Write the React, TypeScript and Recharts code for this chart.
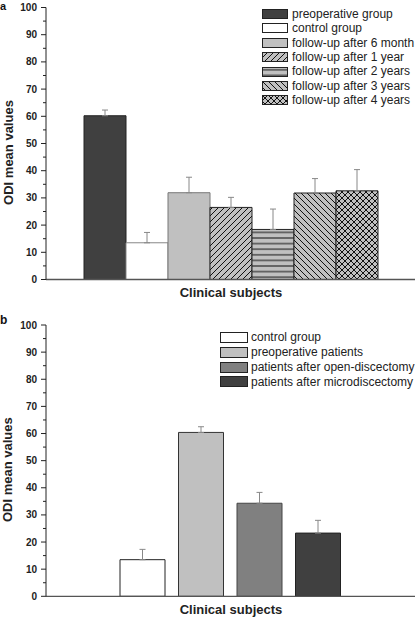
import React from 'react';
import { BarChart, Bar, XAxis, YAxis, ErrorBar, Legend, Label } from 'recharts';

// Panel a
const namesA = [
  'preoperative group',
  'control group',
  'follow-up after 6 month',
  'follow-up after 1 year',
  'follow-up after 2 years',
  'follow-up after 3 years',
  'follow-up after 4 years',
];
const meansA = [60.2, 13.5, 31.9, 26.5, 18.4, 31.8, 32.6];
const errorsA = [2.1, 3.8, 5.7, 3.7, 7.5, 5.3, 7.8];

// Panel b
const namesB = [
  'control group',
  'preoperative patients',
  'patients after open-discectomy',
  'patients after microdiscectomy',
];
const meansB = [13.5, 60.4, 34.3, 23.3];
const errorsB = [3.8, 2.1, 4.0, 4.7];

const yTicks = [0, 5, 10, 15, 20, 25, 30, 35, 40, 45, 50, 55, 60, 65, 70, 75, 80, 85, 90, 95, 100];
const categoryLabel = 'Clinical subjects';
const yLabel = 'ODI mean values';

// styles (separate from data)
const fillsA = ['#404040', '#ffffff', '#c0c0c0', 'url(#pa-fwd)', 'url(#pa-hor)', 'url(#pa-back)', 'url(#pa-cross)'];
const strokesA = ['#222', '#888', '#777', '#222', '#222', '#222', '#222'];
const fillsB = ['#ffffff', '#c0c0c0', '#808080', '#404040'];
const strokesB = ['#222', '#333', '#444', '#222'];

const FONT = '"Liberation Sans", Arial, Helvetica, sans-serif';

function buildRow(means: number[], errors: number[]) {
  const row: Record<string, any> = { name: '' };
  means.forEach((m, i) => {
    row['v' + i] = m;
    row['e' + i] = [0, errors[i]];
  });
  return [row];
}

const dataA = buildRow(meansA, errorsA);
const dataB = buildRow(meansB, errorsB);

const YTick = (props: any) => {
  const { x, y, payload } = props;
  const v = payload.value;
  const major = v % 10 === 0;
  return (
    <g>
      <line x1={x - (major ? 5 : 3)} x2={x} y1={y} y2={y} stroke="#222" strokeWidth={1} />
      {major && (
        <text x={x - 9} y={y} dy="0.35em" textAnchor="end" fontSize={10} fontWeight="bold" fill="#222" fontFamily={FONT}>
          {v}
        </text>
      )}
    </g>
  );
};

const YLabelContent = (props: any) => {
  const vb = props.viewBox || { x: 0, y: 0, width: 0, height: 0 };
  const cx = vb.x + 6.5;
  const cy = vb.y + vb.height / 2 + 9;
  return (
    <text x={cx} y={cy} transform={`rotate(-90, ${cx}, ${cy})`} textAnchor="middle" fontSize={13} fontWeight="bold" fill="#222" fontFamily={FONT}>
      {yLabel}
    </text>
  );
};

const XLabelContent = (props: any) => {
  const vb = props.viewBox || { x: 0, y: 0, width: 0, height: 0 };
  const cx = vb.x + vb.width / 2 + 0.5;
  const cy = vb.y + 17.8;
  return (
    <text x={cx} y={cy} textAnchor="middle" fontSize={13} fontWeight="bold" fill="#222" fontFamily={FONT}>
      {categoryLabel}
    </text>
  );
};

function makeLegend(names: string[], fills: string[], boxW: number, boxH: number, rowH: number, gap: number) {
  return () => (
    <div style={{ fontFamily: FONT }}>
      {names.map((n, i) => (
        <div key={n} style={{ display: 'flex', alignItems: 'center', height: rowH }}>
          <svg width={boxW} height={boxH} style={{ display: 'block' }}>
            <rect x={0.5} y={0.5} width={boxW - 1} height={boxH - 1} fill={fills[i]} stroke="#222" strokeWidth={1} />
          </svg>
          <span style={{ marginLeft: gap, fontSize: 12, color: '#222', whiteSpace: 'nowrap', lineHeight: rowH + 'px' }}>{n}</span>
        </div>
      ))}
    </div>
  );
}

const LegendA = makeLegend(namesA, fillsA, 26, 10, 14.4, 4);
const LegendB = makeLegend(namesB, fillsB, 28, 11, 14.75, 3);

export default function App() {
  return (
    <div style={{ position: 'absolute', left: 0, top: 0, width: 416, height: 617, background: '#fff', fontFamily: FONT }}>
      <style>{'.recharts-surface{overflow:visible}'}</style>
      <div style={{ position: 'absolute', left: 0, top: 0, fontSize: 11, fontWeight: 'bold', lineHeight: 'normal', color: '#111' }}>a</div>
      <div style={{ position: 'absolute', left: 0, top: 0 }}>
        <BarChart width={416} height={300} data={dataA} margin={{ top: 7.5, right: 1, bottom: 0.5, left: 6 }} barSize={42} barGap={0}>
          <defs>
            <pattern id="pa-fwd" patternUnits="userSpaceOnUse" width="6" height="6">
              <rect width="6" height="6" fill="#c0c0c0" />
              <path d="M-1,1 L1,-1 M0,6 L6,0 M5,7 L7,5" stroke="#111" strokeWidth="1" />
            </pattern>
            <pattern id="pa-hor" patternUnits="userSpaceOnUse" width="6" height="5.6">
              <rect width="6" height="5.6" fill="#c0c0c0" />
              <line x1="0" x2="6" y1="2.8" y2="2.8" stroke="#111" strokeWidth="1" />
            </pattern>
            <pattern id="pa-back" patternUnits="userSpaceOnUse" width="6" height="6">
              <rect width="6" height="6" fill="#c0c0c0" />
              <path d="M-1,5 L1,7 M0,0 L6,6 M5,-1 L7,1" stroke="#111" strokeWidth="1" />
            </pattern>
            <pattern id="pa-cross" patternUnits="userSpaceOnUse" width="6" height="6">
              <rect width="6" height="6" fill="#c0c0c0" />
              <path d="M-1,1 L1,-1 M0,6 L6,0 M5,7 L7,5 M-1,5 L1,7 M0,0 L6,6 M5,-1 L7,1" stroke="#111" strokeWidth="1" />
            </pattern>
          </defs>
          <XAxis dataKey="name" tick={false} tickLine={false} height={20} axisLine={{ stroke: '#555', strokeWidth: 1.3 }}>
            <Label content={<XLabelContent />} position="bottom" />
          </XAxis>
          <YAxis
            type="number"
            domain={[0, 100]}
            ticks={yTicks}
            interval={0}
            width={40}
            tickSize={0}
            tickMargin={0}
            tick={<YTick />}
            tickLine={false}
            axisLine={{ stroke: '#222', strokeWidth: 1 }}
            allowDataOverflow
          >
            <Label content={<YLabelContent />} position="left" />
          </YAxis>
          <Legend
            layout="vertical"
            align="center"
            verticalAlign="middle"
            content={<LegendA />}
            wrapperStyle={{ top: 6.8, left: 262, width: 154, height: 'auto' }}
          />
          {namesA.map((n, i) => (
            <Bar key={n} dataKey={'v' + i} name={n} fill={fillsA[i]} stroke={strokesA[i]} strokeWidth={1} isAnimationActive={false}>
              <ErrorBar dataKey={'e' + i} width={3} stroke="#888" strokeWidth={1} direction="y" />
            </Bar>
          ))}
        </BarChart>
      </div>
      <div style={{ position: 'absolute', left: 0, top: 313.8, fontSize: 12, fontWeight: 'bold', lineHeight: '12px', color: '#111' }}>b</div>
      <div style={{ position: 'absolute', left: 0, top: 300 }}>
        <BarChart width={416} height={317} data={dataB} margin={{ top: 25, right: 1, bottom: 0.7, left: 6 }} barSize={45} barGap={13.5}>
          <XAxis dataKey="name" tick={false} tickLine={false} height={20} axisLine={{ stroke: '#555', strokeWidth: 1.3 }}>
            <Label content={<XLabelContent />} position="bottom" />
          </XAxis>
          <YAxis
            type="number"
            domain={[0, 100]}
            ticks={yTicks}
            interval={0}
            width={40}
            tickSize={0}
            tickMargin={0}
            tick={<YTick />}
            tickLine={false}
            axisLine={{ stroke: '#222', strokeWidth: 1 }}
            allowDataOverflow
          >
            <Label content={<YLabelContent />} position="left" />
          </YAxis>
          <Legend
            layout="vertical"
            align="center"
            verticalAlign="middle"
            content={<LegendB />}
            wrapperStyle={{ top: 30.3, left: 220, width: 196, height: 'auto' }}
          />
          {namesB.map((n, i) => (
            <Bar key={n} dataKey={'v' + i} name={n} fill={fillsB[i]} stroke={strokesB[i]} strokeWidth={1} isAnimationActive={false}>
              <ErrorBar dataKey={'e' + i} width={3} stroke="#888" strokeWidth={1} direction="y" />
            </Bar>
          ))}
        </BarChart>
      </div>
    </div>
  );
}
